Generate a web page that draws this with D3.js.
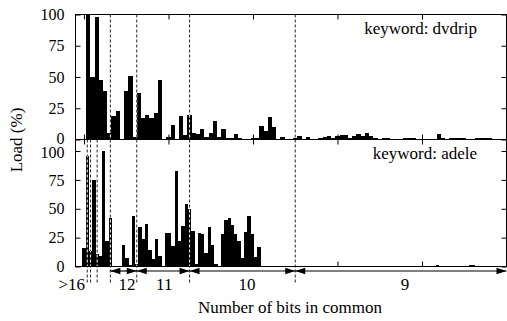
<!DOCTYPE html>
<html>
<head>
<meta charset="utf-8">
<script src="https://cdn.jsdelivr.net/npm/d3@7"></script>
<style>
  body { margin: 0; background: #fff; }
  svg { display: block; font-family: "Liberation Serif", "DejaVu Serif", serif; }
</style>
</head>
<body>
<div id="chart"></div>
<script>
// load per 1% bin of the ID space, keyword "dvdrip"
const dvdripLoad = [
  0, 100, 50, 98, 48, 39, 5, 18.5, 23, 0,
  38.5, 51, 2, 37.5, 17.4, 20, 17, 21, 48, 0,
  2, 12, 0, 18.5, 4, 20, 5.3, 4.8, 8.3, 2,
  5.3, 14.7, 2, 8.3, 1, 1, 4.8, 1, 0.5, 0.5,
  1.3, 1.3, 11, 7, 18, 10, 0.8, 2, 0.5, 0.5,
  1.6, 2.7, 0.5, 2, 0.5, 0.5, 1, 2, 2.7, 1.6,
  2.7, 4, 4, 1.3, 3.2, 4.8, 3.2, 5.3, 2.7, 1.3,
  0.8, 1, 1, 0.8, 0.8, 0.5, 1.3, 1.3, 1, 0.8,
  0.8, 0.5, 0.5, 0.5, 4.5, 1.3, 0.5, 1.3, 1.3, 1.3,
  1, 0.5, 0.5, 1.3, 1.3, 1, 1, 0.5, 0.5, 0.5
];

// load per 1/128 bin, keyword "adele"
const adeleLoad = [
  16, 96, 13, 75, 11, 9.5, 100, 22.5, 42, 0,
  0, 0, 19, 7, 1.5, 44, 2, 34, 23.4, 36.4,
  14.5, 6.6, 24, 8.7, 0, 29, 29, 17.6, 83, 22.5,
  35.5, 54, 50, 30.6, 2.3, 29, 28, 12, 34, 19,
  2.3, 0, 28, 40, 42, 36, 28, 22, 7, 30,
  44, 28, 8, 17, 0, 0, 0.5, 0.5, 0.5, 0.5,
  0, 0, 0, 0, 0, 0, 0.5, 0, 0.5, 0,
  0, 0.7, 0, 0, 0, 0, 0, 0.5, 0.6, 0.5,
  0, 0, 0, 0, 0, 0, 0, 0, 0, 0,
  0, 0.7, 0.6, 0.7, 0, 0, 0.6, 0.6, 0.5, 0.6,
  0.5, 0.6, 0, 0, 0, 0, 0, 1.2, 0, 0,
  0, 0, 0, 0, 0, 0, 0, 1.5, 1.2, 0,
  0, 0, 0, 0, 0, 0.5, 0.5, 0.5
];

const boundaries = [0.78125, 1.5625, 3.125, 6.25, 12.5, 25, 50];
const groupRanges = [[6.25, 12.5], [12.5, 25], [25, 50], [50, 100]];
const groupLabels = [">16", "12", "11", "10", "9"];
const groupLabelAt = [-2.9, 10.2, 19, 38.6, 76];
const yTicks = [0, 25, 50, 75, 100];
const xTicks = [0, 20, 40, 60, 80];

const width = 507, height = 321;

const svg = d3.select('#chart').append('svg')
  .attr('width', width)
  .attr('height', height);

const x = d3.scaleLinear().domain([-2, 100]).range([75.5, 506.5]);

const panels = [
  { id: 'p1', values: dvdripLoad, bin: 1, yMax: 100, range: [139.5, 14.5],
    key: 'keyword: dvdrip', keyY: 34, lines: boundaries.slice(3), lineBottom: 139.5 },
  { id: 'p2', values: adeleLoad, bin: 100 / 128, yMax: 110, range: [266.5, 139.5],
    key: 'keyword: adele', keyY: 159, lines: boundaries, lineBottom: 283 }
];

const fontSize = 17;
const tickFont = 16;

panels.forEach((p, pi) => {
  const y = d3.scaleLinear().domain([0, p.yMax]).range(p.range);
  const g = svg.append('g');
  const bw = x(p.bin) - x(0);

  // dashed group boundaries behind the bars
  g.selectAll('line.bound')
    .data(p.lines)
    .enter().append('line')
    .attr('class', 'bound')
    .attr('x1', d => x(d)).attr('x2', d => x(d))
    .attr('y1', p.range[1]).attr('y2', p.lineBottom)
    .attr('stroke', '#222')
    .attr('stroke-width', 1)
    .attr('stroke-dasharray', '3,2');

  const clip = svg.append('clipPath').attr('id', 'bars-' + p.id);
  const barData = p.values.map((v, i) => ({ c: i * p.bin, v }));

  [g, clip].forEach(target => {
    target.selectAll('rect.bar')
      .data(barData)
      .enter().append('rect')
      .attr('class', 'bar')
      .attr('x', d => x(d.c) - bw / 2)
      .attr('width', bw)
      .attr('y', d => y(d.v))
      .attr('height', d => y(0) - y(d.v))
      .attr('fill', '#000')
      .attr('shape-rendering', 'crispEdges');
  });

  // the dashes show through the bars in white
  g.append('g')
    .attr('clip-path', `url(#bars-${p.id})`)
    .selectAll('line')
    .data(p.lines)
    .enter().append('line')
    .attr('x1', d => x(d)).attr('x2', d => x(d))
    .attr('y1', p.range[1]).attr('y2', p.range[0])
    .attr('stroke', '#fff')
    .attr('stroke-width', 1)
    .attr('stroke-dasharray', '3,2');

  // axes with inward ticks
  const left = g.append('g')
    .attr('transform', `translate(${x.range()[0]},0)`)
    .call(d3.axisLeft(y).tickValues(yTicks).tickSize(-5).tickPadding(11));
  left.selectAll('text')
    .attr('font-family', '"Liberation Serif", serif')
    .attr('font-size', tickFont)
    .attr('fill', '#000')
    // keep the two labels that meet between the panels apart
    .attr('dy', d => pi === 0 && d === 0 ? '0.22em' : (pi === 1 && d === 100 ? '0.42em' : '0.32em'));

  g.append('g')
    .attr('transform', `translate(${x.range()[1]},0)`)
    .call(d3.axisRight(y).tickValues(yTicks).tickSize(-5).tickFormat(''));

  g.append('g')
    .attr('transform', `translate(0,${p.range[0]})`)
    .call(d3.axisBottom(x).tickValues(xTicks).tickSize(-5).tickFormat(''));

  g.append('g')
    .attr('transform', `translate(0,${p.range[1]})`)
    .call(d3.axisTop(x).tickValues(xTicks).tickSize(-5).tickFormat(''));

  g.selectAll('.domain').remove();
  g.selectAll('.tick line').attr('stroke', '#000');

  g.append('rect')
    .attr('x', x.range()[0])
    .attr('y', p.range[1])
    .attr('width', x.range()[1] - x.range()[0])
    .attr('height', p.range[0] - p.range[1])
    .attr('fill', 'none')
    .attr('stroke', '#000')
    .attr('stroke-width', 1);

  g.append('text')
    .attr('x', 477)
    .attr('y', p.keyY)
    .attr('text-anchor', 'end')
    .attr('font-size', fontSize)
    .text(p.key);
});

// range arrows under the lower panel
const arrowY = 271;
const arrows = svg.append('g');
groupRanges.forEach(([a, b]) => {
  const x0 = x(a), x1 = x(b);
  arrows.append('line')
    .attr('x1', x0).attr('x2', x1)
    .attr('y1', arrowY).attr('y2', arrowY)
    .attr('stroke', '#000')
    .attr('stroke-width', 1.2);
  [[x0, 1], [x1, -1]].forEach(([t, dir]) => {
    arrows.append('path')
      .attr('d', `M${t},${arrowY}L${t + dir * 10},${arrowY - 3.2}L${t + dir * 10},${arrowY + 3.2}Z`)
      .attr('fill', '#000');
  });
});

svg.append('g').selectAll('text')
  .data(groupLabels)
  .enter().append('text')
  .attr('x', (d, i) => x(groupLabelAt[i]))
  .attr('y', 290)
  .attr('text-anchor', 'middle')
  .attr('font-size', fontSize)
  .text(d => d);

svg.append('text')
  .attr('x', 290)
  .attr('y', 313)
  .attr('text-anchor', 'middle')
  .attr('font-size', fontSize)
  .text('Number of bits in common');

svg.append('text')
  .attr('transform', 'translate(22,140) rotate(-90)')
  .attr('text-anchor', 'middle')
  .attr('font-size', fontSize)
  .text('Load (%)');
</script>
</body>
</html>
